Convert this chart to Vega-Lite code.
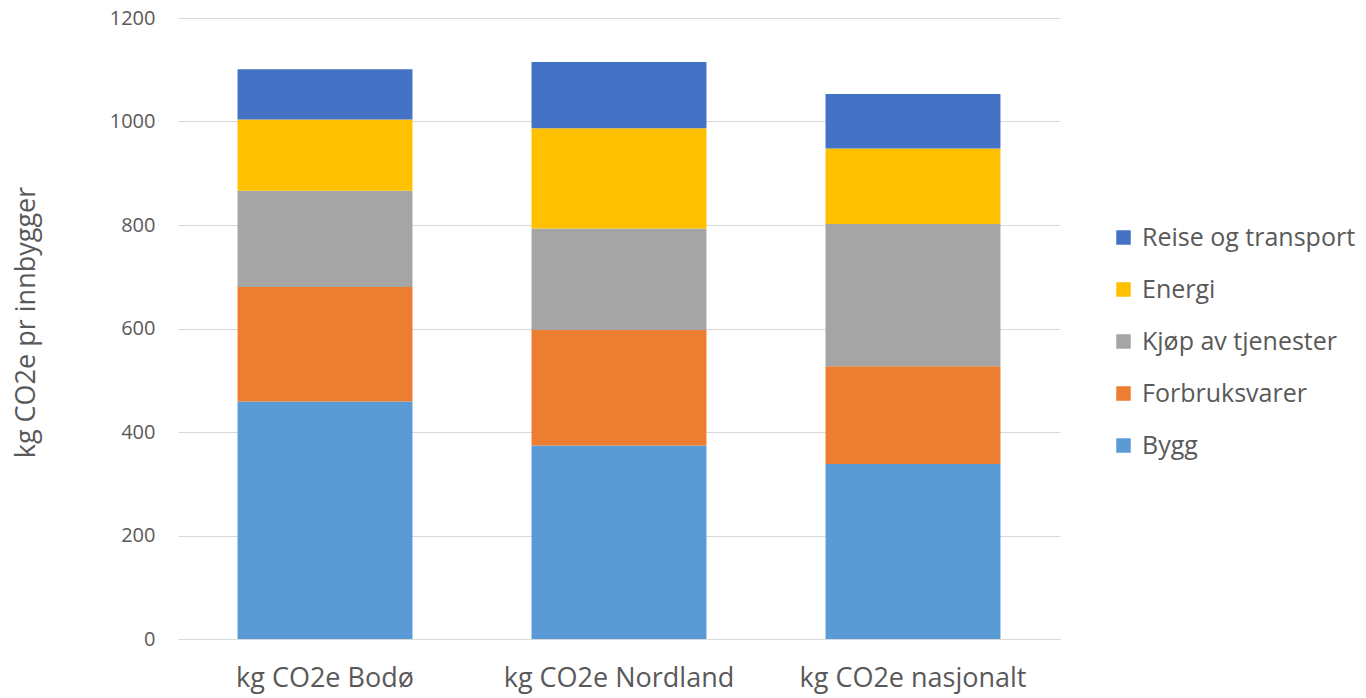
{
  "$schema": "https://vega.github.io/schema/vega-lite/v6.json",
  "width": 882,
  "height": 621,
  "autosize": {"type": "none"},
  "padding": {"left": 178, "top": 18, "right": 306, "bottom": 59},
  "background": "white",
  "config": {
    "view": {"stroke": null},
    "font": "Open Sans",
    "axis": {"labelColor": "#595959", "titleColor": "#595959", "titleFontWeight": "normal"},
    "legend": {"labelColor": "#595959"}
  },
  "data": {
    "values": [
      {"sted": "kg CO2e Bodø", "kategori": "Bygg", "nr": 1, "verdi": 459},
      {"sted": "kg CO2e Bodø", "kategori": "Forbruksvarer", "nr": 2, "verdi": 221},
      {"sted": "kg CO2e Bodø", "kategori": "Kjøp av tjenester", "nr": 3, "verdi": 186},
      {"sted": "kg CO2e Bodø", "kategori": "Energi", "nr": 4, "verdi": 138},
      {"sted": "kg CO2e Bodø", "kategori": "Reise og transport", "nr": 5, "verdi": 97},
      {"sted": "kg CO2e Nordland", "kategori": "Bygg", "nr": 1, "verdi": 374},
      {"sted": "kg CO2e Nordland", "kategori": "Forbruksvarer", "nr": 2, "verdi": 223},
      {"sted": "kg CO2e Nordland", "kategori": "Kjøp av tjenester", "nr": 3, "verdi": 196},
      {"sted": "kg CO2e Nordland", "kategori": "Energi", "nr": 4, "verdi": 194},
      {"sted": "kg CO2e Nordland", "kategori": "Reise og transport", "nr": 5, "verdi": 128},
      {"sted": "kg CO2e nasjonalt", "kategori": "Bygg", "nr": 1, "verdi": 338},
      {"sted": "kg CO2e nasjonalt", "kategori": "Forbruksvarer", "nr": 2, "verdi": 189},
      {"sted": "kg CO2e nasjonalt", "kategori": "Kjøp av tjenester", "nr": 3, "verdi": 275},
      {"sted": "kg CO2e nasjonalt", "kategori": "Energi", "nr": 4, "verdi": 146},
      {"sted": "kg CO2e nasjonalt", "kategori": "Reise og transport", "nr": 5, "verdi": 105}
    ]
  },
  "mark": {"type": "bar"},
  "encoding": {
    "x": {
      "field": "sted",
      "type": "nominal",
      "sort": null,
      "scale": {"paddingInner": 0.405, "paddingOuter": 0.2025},
      "axis": {
        "title": null,
        "labelAngle": 0,
        "labelFontSize": 27,
        "labelPadding": 26,
        "labelLimit": 0,
        "ticks": false,
        "domainColor": "#D9D9D9",
        "domainWidth": 1,
        "grid": false
      }
    },
    "y": {
      "field": "verdi",
      "type": "quantitative",
      "stack": "zero",
      "scale": {"domain": [0, 1200], "nice": false},
      "axis": {
        "title": "kg CO2e pr innbygger",
        "values": [0, 200, 400, 600, 800, 1000, 1200],
        "format": "d",
        "labelFontSize": 20,
        "labelPadding": 23,
        "ticks": false,
        "domain": false,
        "gridColor": "#D9D9D9",
        "gridWidth": 1,
        "titleFontSize": 27,
        "titleAngle": -90,
        "titleX": -152,
        "titleY": 304,
        "titleAlign": "center",
        "titleBaseline": "middle"
      }
    },
    "color": {
      "field": "kategori",
      "type": "nominal",
      "sort": ["Reise og transport", "Energi", "Kjøp av tjenester", "Forbruksvarer", "Bygg"],
      "scale": {
        "domain": ["Reise og transport", "Energi", "Kjøp av tjenester", "Forbruksvarer", "Bygg"],
        "range": ["#4472C4", "#FFC000", "#A5A5A5", "#ED7D31", "#5B9BD5"]
      },
      "legend": {
        "title": null,
        "orient": "none",
        "legendX": 933,
        "legendY": 207,
        "symbolType": "square",
        "symbolSize": 210,
        "symbolStrokeWidth": 0,
        "labelFontSize": 25,
        "labelOffset": 6,
        "rowPadding": 26,
        "labelLimit": 300
      }
    },
    "order": {"field": "nr", "type": "quantitative", "sort": "ascending"}
  }
}
